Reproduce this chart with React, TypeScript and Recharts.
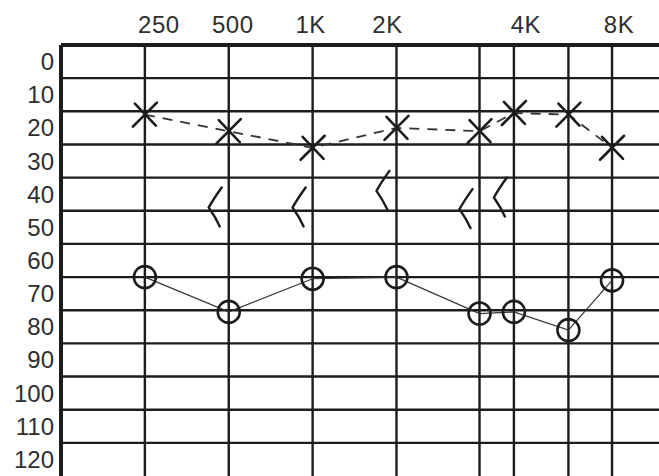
import React from 'react';
import { LineChart, Line, XAxis, YAxis, ReferenceLine } from 'recharts';

// Frequencies tested, and where each sits along the printed frequency axis (in octave columns)
const frequencyLabels = ['250', '500', '1K', '2K', '3K', '4K', '6K', '8K'];
const axisPosition = [1, 2, 3, 4, 4.99, 5.4, 6.05, 6.57];

// Hearing levels (dB)
const xMarkLevels = [16, 21, 26, 20, 21, 15.5, 16, 26]; // "X" symbols, dashed
const circleLevels = [65, 75.5, 65.5, 65, 76, 75.5, 81, 66]; // "O" symbols, solid
const boneLevels: (number | null)[] = [null, 44, 44, 39, 44.5, 41, null, null]; // "<" symbols

// Axes
const levelTicks = [0, 10, 20, 30, 40, 50, 60, 70, 80, 90, 100, 110, 120];
const levelGridLines = [5, 15, 25, 35, 45, 55, 65, 75, 85, 95, 105, 115];
const labelledFrequencies = ['250', '500', '1K', '2K', '4K', '8K'];

const rows = frequencyLabels.map((f, i) => ({
  freq: f,
  pos: axisPosition[i],
  xMark: xMarkLevels[i],
  circle: circleLevels[i],
  bone: boneLevels[i],
}));

const topTicks = labelledFrequencies.map((l) => axisPosition[frequencyLabels.indexOf(l)]);
const labelForPos = (p: number) => frequencyLabels[axisPosition.indexOf(p)] ?? '';

// small print nudges of the top labels, as typeset on the original form
const labelNudge: Record<string, number> = { '250': 14, '500': 4, '1K': -2, '2K': -9, '4K': 12, '8K': 7 };

const INK = '#1c1c1c';
const TEXT = '#2e2e2e';
const FONT = '"Liberation Sans", Arial, sans-serif';

const TopTick = (props: any) => {
  const { x, payload } = props;
  const label = labelForPos(payload.value);
  return (
    <text x={x + (labelNudge[label] ?? 0)} y={33} textAnchor="middle" fontSize={24} fill={TEXT} fontFamily={FONT} letterSpacing={0.5}>
      {label}
    </text>
  );
};

const LeftTick = (props: any) => {
  const { y, payload } = props;
  return (
    <text x={54} y={y} dy={8.5} textAnchor="end" fontSize={24} fill={TEXT} fontFamily={FONT}>
      {payload.value}
    </text>
  );
};

const XMark = (props: any) => {
  const { cx, cy, index } = props;
  if (cx == null || cy == null) return <g key={`xm-${index}`} />;
  const s = 12;
  return (
    <g key={`xm-${index}`} stroke={INK} strokeWidth={2.6} strokeLinecap="round">
      <line x1={cx - s} y1={cy + s} x2={cx + s} y2={cy - s} />
      <line x1={cx - s + 2} y1={cy - s + 1} x2={cx + s - 1} y2={cy + s - 1} />
    </g>
  );
};

const CircleMark = (props: any) => {
  const { cx, cy, index } = props;
  if (cx == null || cy == null) return <g key={`cm-${index}`} />;
  return <circle key={`cm-${index}`} cx={cx} cy={cy} r={11} fill="none" stroke={INK} strokeWidth={2.6} />;
};

const BoneMark = (props: any) => {
  const { cx, cy, index, value } = props;
  if (cx == null || cy == null || value == null) return <g key={`bm-${index}`} />;
  return (
    <path
      key={`bm-${index}`}
      d={`M ${cx - 7} ${cy - 20} Q ${cx - 15} ${cy - 9} ${cx - 20} ${cy} Q ${cx - 13} ${cy + 10} ${cx - 9} ${cy + 19}`}
      fill="none"
      stroke={INK}
      strokeWidth={2.4}
      strokeLinecap="round"
    />
  );
};

export default function App() {
  return (
    <div style={{ position: 'absolute', left: 0, top: 0, background: '#fff' }}>
      <LineChart width={659} height={476} data={rows} margin={{ top: 0, right: 0, bottom: 0, left: 0 }}>
        <XAxis
          xAxisId={0}
          dataKey="pos"
          type="number"
          orientation="top"
          domain={[0, 7.13]}
          ticks={topTicks}
          allowDataOverflow
          height={45}
          tickLine={false}
          axisLine={{ stroke: INK, strokeWidth: 4 }}
          tick={<TopTick />}
          interval={0}
        />
        <YAxis
          yAxisId={0}
          type="number"
          reversed
          domain={[-5, 125]}
          ticks={levelTicks}
          allowDataOverflow
          width={61}
          tickLine={false}
          axisLine={{ stroke: INK, strokeWidth: 4 }}
          tick={<LeftTick />}
          interval={0}
        />
        {levelGridLines.map((v) => (
          <ReferenceLine key={`h-${v}`} y={v} stroke={INK} strokeWidth={2.4} ifOverflow="extendDomain" />
        ))}
        {axisPosition.map((p) => (
          <ReferenceLine key={`v-${p}`} x={p} stroke={INK} strokeWidth={2.4} />
        ))}
        <Line
          dataKey="xMark"
          stroke="#333"
          strokeWidth={1.8}
          strokeDasharray="10 8"
          dot={(p: any) => <XMark {...p} key={`xm-${p.index}`} />}
          activeDot={false}
          isAnimationActive={false}
        />
        <Line
          dataKey="circle"
          stroke="#333"
          strokeWidth={1.2}
          dot={(p: any) => <CircleMark {...p} key={`cm-${p.index}`} />}
          activeDot={false}
          isAnimationActive={false}
        />
        <Line
          dataKey="bone"
          stroke="none"
          dot={(p: any) => <BoneMark {...p} key={`bm-${p.index}`} />}
          activeDot={false}
          isAnimationActive={false}
        />
      </LineChart>
    </div>
  );
}
